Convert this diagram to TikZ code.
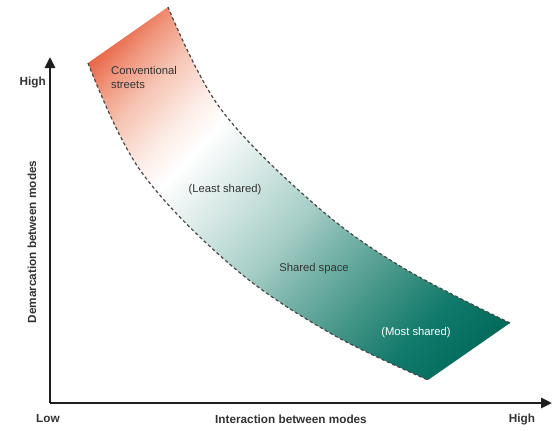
\documentclass[tikz,border=0pt]{standalone}
\usepackage{fontspec}
\setmainfont{Liberation Sans}
\usetikzlibrary{arrows.meta}
\definecolor{c0}{RGB}{232,96,64}
\definecolor{c1}{RGB}{240,150,125}
\definecolor{c2}{RGB}{246,195,178}
\definecolor{c3}{RGB}{252,238,232}
\definecolor{c4}{RGB}{228,240,238}
\definecolor{c5}{RGB}{165,205,198}
\definecolor{c6}{RGB}{125,182,172}
\definecolor{c7}{RGB}{60,145,130}
\definecolor{c8}{RGB}{18,122,108}
\definecolor{c9}{RGB}{0,105,90}
\definecolor{axisgray}{RGB}{30,30,30}
\definecolor{labelgray}{RGB}{51,51,51}
\definecolor{dashgray}{RGB}{70,70,70}
\pgfdeclarehorizontalshading{bandshade}{700bp}{color(0bp)=(c0); color(104bp)=(c0); color(135bp)=(c1); color(168bp)=(c2); color(215bp)=(c3); color(245bp)=(white); color(283bp)=(c4); color(370bp)=(c5); color(409bp)=(c6); color(483bp)=(c7); color(532bp)=(c8); color(596bp)=(c9); color(700bp)=(c9)}
\tikzset{
  axisline/.style={line width=2.6bp, draw=axisgray, -{Triangle[length=11bp,width=10bp]}},
  bandedge/.style={draw=dashgray, line width=1.2bp, dash pattern=on 3.2bp off 2.6bp},
  bandlabel/.style={inner sep=0pt, text=labelgray, font=\fontsize{11.3}{14.5}\selectfont},
  axislabel/.style={inner sep=0pt, text=labelgray, font=\fontsize{11.8}{14}\selectfont\bfseries}
}
\begin{document}
\begin{tikzpicture}[x=1bp,y=-1bp]
\useasboundingbox (0,0) rectangle (552,430);
% band fill
\begin{scope}
\clip plot[smooth, tension=0.6] coordinates {(88,63) (140,170) (233,267) (330,333) (428,380)}
  -- (510,323)
  -- plot[smooth, tension=0.6] coordinates {(510,323) (400,266) (313,203) (220,108) (168,7)}
  -- cycle;
\pgftext[at={\pgfpointxy{300}{192.5}},rotate=-42.9]{\pgfuseshading{bandshade}}
\end{scope}
% dashed edges
\draw[bandedge] plot[smooth, tension=0.6] coordinates {(88,63) (140,170) (233,267) (330,333) (428,380)};
\draw[bandedge] plot[smooth, tension=0.6] coordinates {(510,323) (400,266) (313,203) (220,108) (168,7)};
% axes
\coordinate (origin) at (50,403);
\coordinate (ytip) at (50,57);
\coordinate (xtip) at (552,403);
\draw[axisline] (origin) -- (ytip);
\draw[axisline] (origin) -- (xtip);
% band labels
\node[bandlabel, anchor=north west, align=left] (conv) at (111,66) {Conventional\\streets};
\node[bandlabel] (least) at (225,190) {(Least shared)};
\node[bandlabel] (shared) at (314,269) {Shared space};
\node[bandlabel, text=white] (most) at (416,333) {(Most shared)};
% axis labels
\node[axislabel, anchor=east] (yhigh) at (46,82) {High};
\node[axislabel, rotate=90] (ylab) at (32,242) {Demarcation between modes};
\node[axislabel] (xlow) at (48,419) {Low};
\node[axislabel] (xlab) at (291,419) {Interaction between modes};
\node[axislabel] (xhigh) at (522,419) {High};
\end{tikzpicture}
\end{document}
